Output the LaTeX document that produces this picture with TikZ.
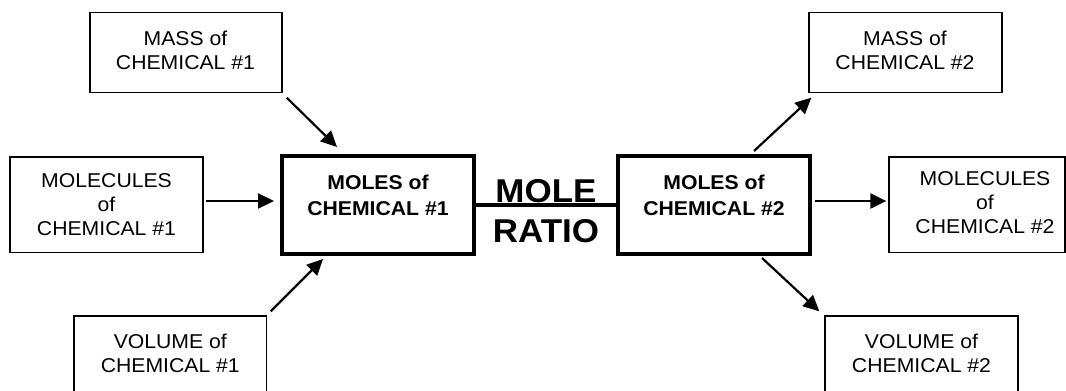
\documentclass[tikz,border=0pt]{standalone}
\usepackage{fontspec}
\setmainfont{Liberation Sans}[FakeStretch=1.06]
\usetikzlibrary{arrows.meta}
\begin{document}
\begin{tikzpicture}[x=1pt,y=-1pt,
  thinbox/.style={draw=black, line width=1.3pt, inner sep=0pt},
  thickbox/.style={draw=black, line width=4pt, inner sep=0pt},
  lbl/.style={align=center, inner sep=0pt, font=\fontsize{20}{24}\selectfont},
  blbl/.style={align=center, inner sep=0pt, font=\fontsize{20}{26}\selectfont\bfseries},
  bigl/.style={align=center, inner sep=0pt, font=\fontsize{33}{40}\selectfont\bfseries},
  conn/.style={line width=2.2pt, -{Triangle[length=16pt,width=15pt]}},
]
\fill[white] (0,0) rectangle (1066,391);
\useasboundingbox (0,0) rectangle (1066,391);
\clip (0,0) rectangle (1066,391);

% boxes
\node[thinbox, minimum width=192pt, minimum height=80pt] (mass1) at (186,52.7) {};
\node[thinbox, minimum width=193pt, minimum height=80pt] (mass2) at (905.5,52.7) {};
\node[thinbox, minimum width=193pt, minimum height=95.5pt] (molec1) at (106.5,204.7) {};
\node[thinbox, minimum width=176pt, minimum height=95.5pt] (molec2) at (977,204.7) {};
\node[thickbox, minimum width=192pt, minimum height=98pt] (moles1) at (378,205) {};
\node[thickbox, minimum width=192pt, minimum height=98pt] (moles2) at (714,205) {};
\node[thinbox, minimum width=192.5pt, minimum height=96pt] (vol1) at (170.25,364) {};
\node[thinbox, minimum width=193pt, minimum height=96pt] (vol2) at (921.5,364) {};

% texts
\node[lbl] (mass1t) at (185.5,50.5) {MASS of\\CHEMICAL \#1};
\node[lbl] (mass2t) at (905,50.5) {MASS of\\CHEMICAL \#2};
\node[lbl] (molec1t) at (106.5,204.5) {MOLECULES\\of\\CHEMICAL \#1};
\node[lbl] (molec2t) at (985,203) {MOLECULES\\of\\CHEMICAL \#2};
\node[blbl] (moles1t) at (378,195.5) {MOLES of\\CHEMICAL \#1};
\node[blbl] (moles2t) at (714,195.5) {MOLES of\\CHEMICAL \#2};
\node[lbl] (vol1t) at (170.3,353.7) {VOLUME of\\CHEMICAL \#1};
\node[lbl] (vol2t) at (921.5,353.7) {VOLUME of\\CHEMICAL \#2};
\node[bigl] (ratio) at (546,210.7) {MOLE\\RATIO};

% connection line
\draw[line width=4pt] (moles1.east) -- (moles2.west);

% arrows
\draw[conn] ([xshift=4pt,yshift=-4.3pt]mass1.south east) -- ([xshift=57pt,yshift=7pt]moles1.north west);
\draw[conn] ([xshift=2pt,yshift=3.7pt]molec1.east) -- ([xshift=-6pt,yshift=4pt]moles1.west);
\draw[conn] ([xshift=3.5pt,yshift=4pt]vol1.north east) -- ([xshift=43pt,yshift=-3pt]moles1.south west);
\draw[conn] ([xshift=138pt,yshift=3pt]moles2.north west) -- ([xshift=3pt,yshift=-4.3pt]mass2.south west);
\draw[conn] ([xshift=3pt,yshift=4pt]moles2.east) -- ([xshift=-2pt,yshift=3.7pt]molec2.west);
\draw[conn] ([xshift=146pt,yshift=-2pt]moles2.south west) -- ([xshift=-5pt,yshift=4pt]vol2.north west);
\end{tikzpicture}
\end{document}
